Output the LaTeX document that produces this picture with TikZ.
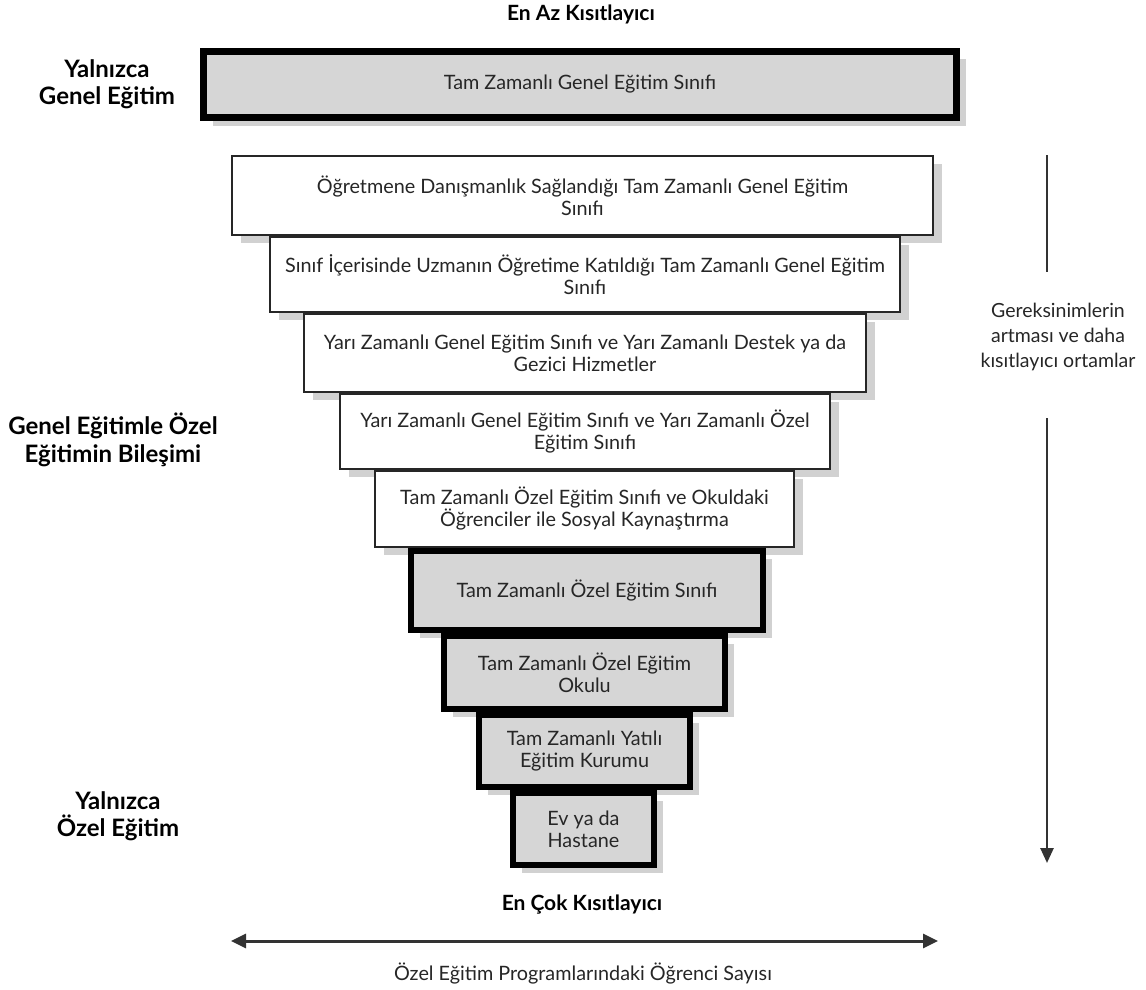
\documentclass[tikz,border=0pt]{standalone}
\usepackage{fontspec}
\setmainfont{Lato}
\usetikzlibrary{arrows.meta,shadows}
\begin{document}
\begin{tikzpicture}[x=1pt,y=-1pt,
  boxtext/.style={align=center, text=black!85, font=\fontsize{19.8}{22}\selectfont},
  thinbox/.style={boxtext, draw=black!85, line width=2pt, fill=white, inner sep=0pt,
     drop shadow={shadow xshift=9pt, shadow yshift=-8pt, opacity=1, fill=black!18}},
  thickbox/.style={thinbox, line width=6.5pt, draw=black, fill=black!16},
  lbl/.style={align=center, text=black, font=\fontsize{21}{28}\selectfont\bfseries},
  sidelbl/.style={lbl, font=\fontsize{24}{27.5}\selectfont\bfseries},
  arr/.style={line width=2.6pt, draw=black!80}
]
\useasboundingbox (0,0) rectangle (1146,990);

\node[lbl] (least) at (581,14) {En Az Kısıtlayıcı};

\node[thickbox, line width=7pt, minimum width=753pt, minimum height=66pt] (b1) at (580,84.5) {Tam Zamanlı Genel Eğitim Sınıfı};
\node[thinbox, minimum width=701pt, minimum height=79pt] (b2) at (582.5,195.5) {Öğretmene Danışmanlık Sağlandığı Tam Zamanlı Genel Eğitim\\Sınıfı};
\node[thinbox, minimum width=630pt, minimum height=75pt] (b3) at (585,274.5) {Sınıf İçerisinde Uzmanın Öğretime Katıldığı Tam Zamanlı Genel Eğitim\\Sınıfı};
\node[thinbox, minimum width=562pt, minimum height=78pt] (b4) at (585,353) {Yarı Zamanlı Genel Eğitim Sınıfı ve Yarı Zamanlı Destek ya da\\Gezici Hizmetler};
\node[thinbox, minimum width=490pt, minimum height=75pt] (b5) at (585,431.5) {Yarı Zamanlı Genel Eğitim Sınıfı ve Yarı Zamanlı Özel\\Eğitim Sınıfı};
\node[thinbox, minimum width=419pt, minimum height=76pt] (b6) at (584.5,509) {Tam Zamanlı Özel Eğitim Sınıfı ve Okuldaki\\Öğrenciler ile Sosyal Kaynaştırma};
\node[thickbox, minimum width=352pt, minimum height=79pt] (b7) at (587,590.5) {Tam Zamanlı Özel Eğitim Sınıfı};
\node[thickbox, minimum width=281pt, minimum height=73pt] (b8) at (584.5,672.5) {Tam Zamanlı Özel Eğitim\\Okulu};
\node[thickbox, minimum width=211pt, minimum height=72pt] (b9) at (584.5,751) {Tam Zamanlı Yatılı\\Eğitim Kurumu};
\node[thickbox, minimum width=141pt, minimum height=72pt] (b10) at (583.5,829) {Ev ya da\\Hastane};

\node[sidelbl] (gen) at (107,84) {Yalnızca\\Genel Eğitim};
\node[sidelbl] (comb) at (113,440) {Genel Eğitimle Özel\\Eğitimin Bileşimi};
\node[sidelbl] (spec) at (118,816) {Yalnızca\\Özel Eğitim};

\node[lbl] (most) at (582,905) {En Çok Kısıtlayıcı};

% right vertical arrow
\coordinate (rtop) at (1047,155);
\coordinate (rbot) at (1047,863);
\node[boxtext, font=\fontsize{19.5}{25}\selectfont] (need) at (1058,337) {Gereksinimlerin\\artması ve daha\\kısıtlayıcı ortamlar};
\draw[arr] (rtop) -- (1047,272);
\draw[arr, -{Triangle[length=15pt,width=13pt]}] (1047,418) -- (rbot);

% horizontal double arrow
\coordinate (hl) at (231,941);
\coordinate (hr) at (938,941);
\draw[arr, line width=3pt, {Triangle[length=15pt,width=14pt]}-{Triangle[length=15pt,width=14pt]}] (hl) -- (hr);
\node[boxtext] (count) at (583,973) {Özel Eğitim Programlarındaki Öğrenci Sayısı};
\end{tikzpicture}
\end{document}
